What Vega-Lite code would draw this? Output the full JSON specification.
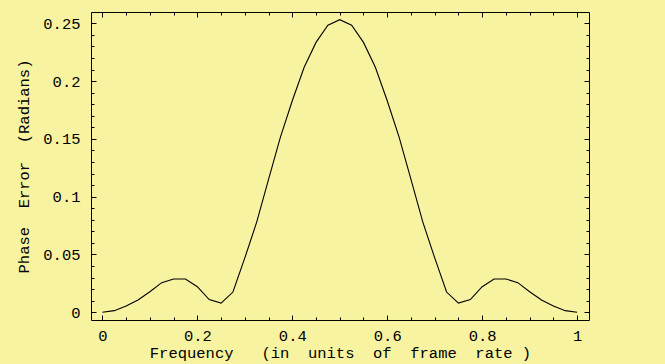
{
  "$schema": "https://vega.github.io/schema/vega-lite/v6.json",
  "autosize": {"type": "none"},
  "width": 498,
  "height": 308,
  "padding": {"left": 91, "top": 12, "right": 76, "bottom": 44},
  "background": "#F8F3A1",
  "config": {
    "view": {"stroke": "#000000", "strokeWidth": 1, "fill": null},
    "axis": {
      "domain": false,
      "grid": false,
      "tickColor": "#000000",
      "tickWidth": 1,
      "labelFont": "Liberation Mono",
      "labelFontSize": 15.5,
      "labelColor": "#000000",
      "titleFont": "Liberation Mono",
      "titleFontSize": 15.5,
      "titleFontWeight": "normal",
      "titleColor": "#000000",
      "labelFlush": false,
      "labelOverlap": false
    }
  },
  "data": {
    "values": [
      {"f": 0, "e": 0},
      {"f": 0.025, "e": 0.0014},
      {"f": 0.05, "e": 0.0055},
      {"f": 0.075, "e": 0.0106},
      {"f": 0.1, "e": 0.0178},
      {"f": 0.125, "e": 0.0256},
      {"f": 0.15, "e": 0.0288},
      {"f": 0.175, "e": 0.0288},
      {"f": 0.2, "e": 0.0221},
      {"f": 0.225, "e": 0.011},
      {"f": 0.25, "e": 0.0079},
      {"f": 0.275, "e": 0.0175},
      {"f": 0.3, "e": 0.047},
      {"f": 0.325, "e": 0.078},
      {"f": 0.35, "e": 0.115},
      {"f": 0.375, "e": 0.1516},
      {"f": 0.4, "e": 0.183},
      {"f": 0.425, "e": 0.212},
      {"f": 0.45, "e": 0.2335},
      {"f": 0.475, "e": 0.2484},
      {"f": 0.5, "e": 0.2532},
      {"f": 0.525, "e": 0.2484},
      {"f": 0.55, "e": 0.2335},
      {"f": 0.575, "e": 0.212},
      {"f": 0.6, "e": 0.183},
      {"f": 0.625, "e": 0.1516},
      {"f": 0.65, "e": 0.115},
      {"f": 0.675, "e": 0.078},
      {"f": 0.7, "e": 0.047},
      {"f": 0.725, "e": 0.0175},
      {"f": 0.75, "e": 0.0079},
      {"f": 0.775, "e": 0.011},
      {"f": 0.8, "e": 0.0221},
      {"f": 0.825, "e": 0.0288},
      {"f": 0.85, "e": 0.0288},
      {"f": 0.875, "e": 0.0256},
      {"f": 0.9, "e": 0.0178},
      {"f": 0.925, "e": 0.0106},
      {"f": 0.95, "e": 0.0055},
      {"f": 0.975, "e": 0.0014},
      {"f": 1, "e": 0}
    ]
  },
  "layer": [
    {
      "mark": {"type": "line", "color": "#000000", "strokeWidth": 1.1, "clip": true},
      "encoding": {
        "x": {
          "field": "f", "type": "quantitative",
          "scale": {"domain": [-0.024, 1.025], "nice": false, "zero": false},
          "axis": {
            "orient": "bottom",
            "title": "Frequency\u00a0\u00a0\u00a0(in\u00a0\u00a0units\u00a0\u00a0of\u00a0\u00a0frame\u00a0\u00a0rate\u00a0)",
            "values": [0, 0.05, 0.1, 0.15, 0.2, 0.25, 0.3, 0.35, 0.4, 0.45, 0.5, 0.55, 0.6, 0.65, 0.7, 0.75, 0.8, 0.85, 0.9, 0.95, 1],
            "tickSize": {"condition": {"test": "abs(datum.value*5 - round(datum.value*5)) < 0.000001", "value": -5}, "value": -3},
            "labelExpr": "abs(datum.value*5 - round(datum.value*5)) < 0.000001 ? format(datum.value, '~g') : ''",
            "labelPadding": 13,
            "titlePadding": 0
          }
        },
        "y": {
          "field": "e", "type": "quantitative",
          "scale": {"domain": [-0.0067, 0.2598], "nice": false, "zero": false},
          "axis": {
            "orient": "left",
            "title": "Phase\u00a0\u00a0Error\u00a0\u00a0(Radians)",
            "values": [0, 0.01, 0.02, 0.03, 0.04, 0.05, 0.06, 0.07, 0.08, 0.09, 0.1, 0.11, 0.12, 0.13, 0.14, 0.15, 0.16, 0.17, 0.18, 0.19, 0.2, 0.21, 0.22, 0.23, 0.24, 0.25],
            "tickSize": {"condition": {"test": "abs(datum.value*20 - round(datum.value*20)) < 0.000001", "value": -5}, "value": -3},
            "labelExpr": "abs(datum.value*20 - round(datum.value*20)) < 0.000001 ? format(datum.value, '~g') : ''",
            "labelPadding": 16,
            "titlePadding": 11
          }
        }
      }
    },
    {
      "mark": {"type": "line", "strokeOpacity": 0},
      "encoding": {
        "x": {
          "field": "f", "type": "quantitative",
          "axis": {
            "orient": "top",
            "title": null,
            "labels": false,
            "values": [0, 0.05, 0.1, 0.15, 0.2, 0.25, 0.3, 0.35, 0.4, 0.45, 0.5, 0.55, 0.6, 0.65, 0.7, 0.75, 0.8, 0.85, 0.9, 0.95, 1],
            "tickSize": {"condition": {"test": "abs(datum.value*5 - round(datum.value*5)) < 0.000001", "value": -5}, "value": -3}
          }
        },
        "y": {
          "field": "e", "type": "quantitative",
          "axis": {
            "orient": "right",
            "title": null,
            "labels": false,
            "values": [0, 0.01, 0.02, 0.03, 0.04, 0.05, 0.06, 0.07, 0.08, 0.09, 0.1, 0.11, 0.12, 0.13, 0.14, 0.15, 0.16, 0.17, 0.18, 0.19, 0.2, 0.21, 0.22, 0.23, 0.24, 0.25],
            "tickSize": {"condition": {"test": "abs(datum.value*20 - round(datum.value*20)) < 0.000001", "value": -5}, "value": -3}
          }
        }
      }
    }
  ],
  "resolve": {"axis": {"x": "independent", "y": "independent"}}
}
